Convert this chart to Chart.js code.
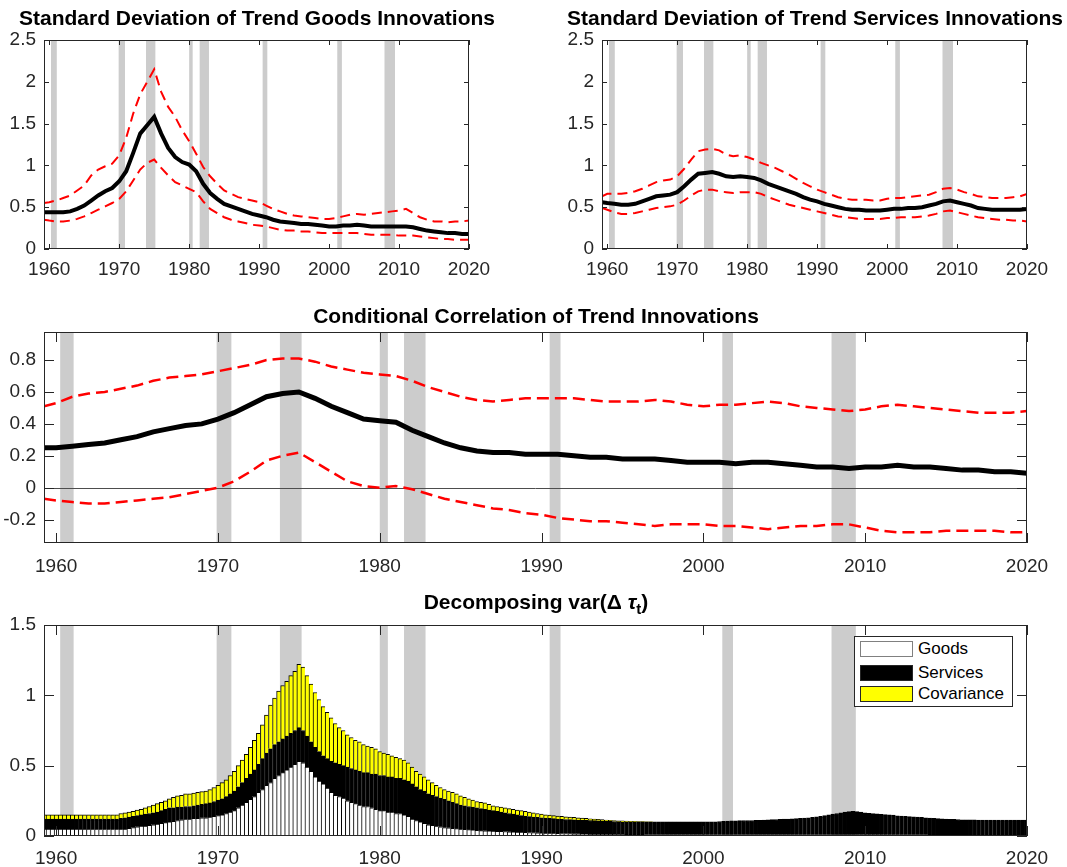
<!DOCTYPE html>
<html>
<head>
<meta charset="utf-8">
<script src="https://cdn.jsdelivr.net/npm/chart.js@4.4.1/dist/chart.umd.min.js"></script>
<style>
  body { margin: 0; background: #fff; width: 1067px; height: 867px; position: relative; overflow: hidden;
         font-family: "Liberation Sans", Arial, sans-serif; }
  canvas { position: absolute; }
  .title { position: absolute; width: 700px; text-align: center; font-weight: bold; font-size: 21px; line-height: 24px;
           color: #000; white-space: nowrap; }
  .title sub { font-size: 15px; line-height: 0; }
  #legend { position: absolute; left: 854px; top: 636px; width: 159px; height: 71px; box-sizing: border-box;
            border: 1px solid #262626; background: #fff; font-size: 17px; color: #000; }
  .row { position: absolute; left: 5px; height: 16px; }
  .sw { position: absolute; left: 0; top: 0; width: 53px; height: 16px; box-sizing: border-box; border: 1px solid #262626; }
  .lab { position: absolute; left: 58px; top: -2px; line-height: 20px; white-space: nowrap; }
</style>
</head>
<body>
<canvas id="c1" width="500" height="290" style="left:0;top:0"></canvas>
<canvas id="c2" width="509" height="290" style="left:558px;top:0"></canvas>
<canvas id="c3" width="1067" height="298" style="left:0;top:292px"></canvas>
<canvas id="c4" width="1067" height="277" style="left:0;top:590px"></canvas>

<!-- each title box is 700px wide, centred on its axes -->
<div class="title" style="left:-93px;top:6px">Standard Deviation of Trend Goods Innovations</div>
<div class="title" style="left:465px;top:6px">Standard Deviation of Trend Services Innovations</div>
<div class="title" style="left:186px;top:304px">Conditional Correlation of Trend Innovations</div>
<div class="title" style="left:186px;top:590px">Decomposing var(&Delta; <i>&tau;</i><sub>t</sub>)</div>

<div id="legend">
  <div class="row" style="top:4px"><div class="sw" style="background:#fff;border-color:#808080"></div><div class="lab">Goods</div></div>
  <div class="row" style="top:28px"><div class="sw" style="background:#000"></div><div class="lab">Services</div></div>
  <div class="row" style="top:49px"><div class="sw" style="background:#ffff00"></div><div class="lab">Covariance</div></div>
</div>

<script>
// annual readings: first point is 1959Q2, then one per year 1960..2020
const years = [1959.25].concat(Array.from({ length: 61 }, (_, i) => 1960 + i));
const yearTicks = [1960, 1970, 1980, 1990, 2000, 2010, 2020];
const sdTicks = [0, 0.5, 1, 1.5, 2, 2.5];
const corrTicks = [-0.2, 0, 0.2, 0.4, 0.6, 0.8];
const varTicks = [0, 0.5, 1, 1.5];

// NBER recessions (shaded)
const recStart = [1960.25, 1969.92, 1973.83, 1980.0, 1981.5, 1990.5, 2001.17, 2007.92];
const recEnd   = [1961.08, 1970.83, 1975.17, 1980.5, 1982.83, 1991.17, 2001.83, 2009.42];

const goodsMed = [0.44,
  0.44, 0.44, 0.44, 0.45, 0.48, 0.52, 0.58, 0.64, 0.69, 0.73,
  0.81, 0.93, 1.15, 1.38, 1.48, 1.58, 1.38, 1.21, 1.10, 1.04,
  1.01, 0.93, 0.78, 0.67, 0.60, 0.54, 0.51, 0.48, 0.45, 0.42,
  0.40, 0.38, 0.35, 0.33, 0.32, 0.31, 0.30, 0.30, 0.29, 0.28,
  0.27, 0.27, 0.28, 0.28, 0.29, 0.28, 0.27, 0.27, 0.27, 0.27,
  0.27, 0.27, 0.26, 0.24, 0.22, 0.21, 0.20, 0.19, 0.19, 0.18,
  0.18];
const goodsUp = [0.55,
  0.56, 0.58, 0.61, 0.64, 0.70, 0.76, 0.88, 0.95, 0.99, 1.02,
  1.12, 1.33, 1.62, 1.85, 2.00, 2.15, 1.88, 1.70, 1.58, 1.42,
  1.29, 1.14, 0.98, 0.87, 0.78, 0.70, 0.66, 0.62, 0.60, 0.58,
  0.56, 0.52, 0.48, 0.45, 0.42, 0.40, 0.39, 0.38, 0.37, 0.36,
  0.36, 0.37, 0.39, 0.41, 0.42, 0.41, 0.42, 0.43, 0.44, 0.45,
  0.46, 0.48, 0.43, 0.38, 0.35, 0.33, 0.33, 0.32, 0.33, 0.33,
  0.34];
const goodsLo = [0.35,
  0.34, 0.33, 0.33, 0.34, 0.36, 0.39, 0.43, 0.47, 0.51, 0.55,
  0.60, 0.69, 0.82, 0.95, 1.03, 1.07, 0.97, 0.88, 0.80, 0.76,
  0.72, 0.68, 0.57, 0.48, 0.43, 0.38, 0.35, 0.33, 0.31, 0.29,
  0.28, 0.27, 0.25, 0.23, 0.22, 0.22, 0.21, 0.21, 0.20, 0.19,
  0.19, 0.19, 0.19, 0.19, 0.19, 0.18, 0.17, 0.17, 0.17, 0.17,
  0.16, 0.16, 0.16, 0.15, 0.14, 0.13, 0.12, 0.12, 0.11, 0.11,
  0.11];

const servMed = [0.56,
  0.55, 0.54, 0.53, 0.53, 0.54, 0.57, 0.60, 0.63, 0.64, 0.65,
  0.68, 0.75, 0.83, 0.90, 0.91, 0.92, 0.90, 0.87, 0.86, 0.87,
  0.86, 0.85, 0.82, 0.78, 0.75, 0.72, 0.69, 0.66, 0.62, 0.59,
  0.57, 0.54, 0.52, 0.50, 0.48, 0.47, 0.47, 0.46, 0.46, 0.46,
  0.47, 0.48, 0.48, 0.49, 0.49, 0.50, 0.52, 0.54, 0.57, 0.58,
  0.56, 0.54, 0.52, 0.49, 0.48, 0.47, 0.47, 0.47, 0.47, 0.47,
  0.48];
const servUp = [0.63,
  0.66, 0.66, 0.66, 0.67, 0.69, 0.72, 0.76, 0.80, 0.82, 0.83,
  0.87, 0.96, 1.07, 1.17, 1.19, 1.20, 1.18, 1.13, 1.11, 1.12,
  1.10, 1.07, 1.03, 1.00, 0.97, 0.93, 0.89, 0.84, 0.79, 0.75,
  0.71, 0.68, 0.65, 0.62, 0.60, 0.59, 0.59, 0.59, 0.58, 0.58,
  0.60, 0.61, 0.61, 0.62, 0.63, 0.64, 0.65, 0.68, 0.72, 0.73,
  0.71, 0.68, 0.66, 0.63, 0.62, 0.61, 0.61, 0.61, 0.62, 0.63,
  0.66];
const servLo = [0.49,
  0.47, 0.44, 0.42, 0.42, 0.43, 0.45, 0.47, 0.49, 0.50, 0.51,
  0.53, 0.58, 0.64, 0.69, 0.71, 0.71, 0.69, 0.68, 0.67, 0.68,
  0.68, 0.68, 0.66, 0.62, 0.59, 0.56, 0.53, 0.51, 0.49, 0.47,
  0.45, 0.43, 0.41, 0.39, 0.38, 0.37, 0.36, 0.36, 0.36, 0.36,
  0.37, 0.37, 0.38, 0.38, 0.38, 0.39, 0.40, 0.42, 0.45, 0.46,
  0.44, 0.42, 0.40, 0.38, 0.37, 0.36, 0.35, 0.35, 0.34, 0.34,
  0.33];

const corrMed = [0.25,
  0.25, 0.26, 0.27, 0.28, 0.30, 0.32, 0.35, 0.37, 0.39, 0.40,
  0.43, 0.47, 0.52, 0.57, 0.59, 0.60, 0.56, 0.51, 0.47, 0.43,
  0.42, 0.41, 0.36, 0.32, 0.28, 0.25, 0.23, 0.22, 0.22, 0.21,
  0.21, 0.21, 0.20, 0.19, 0.19, 0.18, 0.18, 0.18, 0.17, 0.16,
  0.16, 0.16, 0.15, 0.16, 0.16, 0.15, 0.14, 0.13, 0.13, 0.12,
  0.13, 0.13, 0.14, 0.13, 0.13, 0.12, 0.11, 0.11, 0.10, 0.10,
  0.09];
const corrUp = [0.51,
  0.53, 0.57, 0.59, 0.60, 0.62, 0.64, 0.67, 0.69, 0.70, 0.71,
  0.73, 0.75, 0.77, 0.80, 0.81, 0.81, 0.79, 0.76, 0.74, 0.72,
  0.71, 0.70, 0.67, 0.63, 0.60, 0.57, 0.55, 0.54, 0.55, 0.56,
  0.56, 0.56, 0.56, 0.55, 0.54, 0.54, 0.54, 0.55, 0.54, 0.52,
  0.51, 0.52, 0.52, 0.53, 0.54, 0.53, 0.51, 0.50, 0.49, 0.48,
  0.49, 0.51, 0.52, 0.51, 0.50, 0.49, 0.48, 0.47, 0.47, 0.47,
  0.48];
const corrLo = [-0.07,
  -0.08, -0.09, -0.10, -0.10, -0.09, -0.08, -0.07, -0.06, -0.04, -0.02,
  0.00, 0.04, 0.10, 0.17, 0.20, 0.22, 0.16, 0.10, 0.04, 0.01,
  0.00, 0.01, -0.01, -0.04, -0.07, -0.09, -0.11, -0.13, -0.14, -0.16,
  -0.17, -0.19, -0.20, -0.21, -0.21, -0.22, -0.23, -0.24, -0.23, -0.23,
  -0.23, -0.24, -0.24, -0.25, -0.26, -0.25, -0.24, -0.24, -0.23, -0.23,
  -0.25, -0.27, -0.28, -0.28, -0.28, -0.27, -0.27, -0.27, -0.27, -0.28,
  -0.28];

// quarterly variance decomposition, 1959Q2 .. 2020Q1 (one row per year)
const goodsVar = [
  .05, .05, .05,
  .05, .05, .05, .05,   .05, .05, .05, .05,   .05, .05, .05, .05,   .05, .05, .05, .05,
  .05, .05, .055, .06,  .065, .07, .07, .075, .08, .085, .09, .095, .10, .105, .11, .115,
  .12, .12, .125, .125, .13, .13, .135, .14,
  .145, .15, .16, .17,  .18, .20, .22, .24,   .26, .28, .31, .33,   .36, .38, .41, .43,
  .45, .47, .49, .51,   .53, .52, .49, .46,   .42, .39, .37, .34,   .31, .29, .28, .27,
  .25, .24, .23, .22,   .21, .21, .20, .19,
  .18, .18, .17, .17,   .16, .16, .15, .14,   .12, .11, .10, .09,   .08, .075, .07, .065,
  .06, .058, .055, .052, .05, .048, .045, .043, .04, .038, .037, .036, .035, .034, .033, .032,
  .03, .029, .028, .027, .026, .025, .024, .023,
  .022, .021, .02, .02, .019, .018, .018, .017, .016, .016, .015, .015, .014, .014, .013, .013,
  .013, .012, .012, .012, .012, .011, .011, .011, .011, .011, .01, .01, .01, .01, .01, .01,
  .01, .01, .01, .01,   .01, .01, .01, .01,
  .01, .01, .01, .01,   .01, .01, .01, .01,   .01, .01, .01, .01,   .01, .01, .01, .01,
  .01, .01, .01, .01,   .01, .01, .01, .01,   .01, .01, .01, .01,   .01, .01, .01, .01,
  .01, .01, .01, .01,   .01, .01, .01, .01,
  .01, .009, .009, .009, .009, .009, .009, .009, .008, .008, .008, .008, .008, .008, .008, .008,
  .007, .007, .007, .007, .007, .007, .007, .007, .006, .006, .006, .006, .006, .006, .006, .006,
  .006, .006, .006, .006, .006, .006, .006, .006,
  .006];
const servicesVar = [
  .07, .07, .07,
  .07, .07, .07, .07,   .07, .07, .07, .07,   .07, .07, .07, .07,   .07, .07, .07, .07,
  .075, .08, .08, .08,  .08, .08, .085, .085, .085, .085, .09, .095, .10, .095, .095, .09,
  .09, .09, .09, .095,  .095, .10, .10, .105,
  .11, .115, .12, .13,  .14, .15, .16, .17,   .18, .19, .20, .22,   .23, .24, .24, .24,
  .24, .24, .24, .24,   .24, .23, .22, .21,   .21, .21, .20, .21,   .22, .23, .23, .23,
  .24, .24, .24, .24,   .24, .24, .24, .25,
  .25, .25, .25, .25,   .25, .25, .25, .25,   .25, .24, .23, .23,   .22, .215, .21, .205,
  .20, .192, .185, .178, .17, .167, .165, .162, .16, .157, .153, .149, .145, .141, .137, .133,
  .13, .126, .122, .118, .114, .113, .111, .11,
  .108, .107, .105, .103, .101, .10, .099, .099, .099, .098, .097, .096, .096, .095, .095, .094,
  .092, .092, .091, .09, .088, .089, .089, .089, .089, .089, .09, .09, .09, .09, .09, .09,
  .09, .09, .09, .09,   .09, .09, .09, .09,
  .09, .09, .09, .09,   .093, .095, .096, .097, .098, .099, .10, .10, .10, .101, .102, .103,
  .105, .106, .107, .108, .11, .111, .112, .113, .115, .117, .12, .123, .126, .13, .135, .14,
  .145, .15, .155, .16, .163, .165, .163, .16,
  .155, .153, .15, .148, .145, .143, .141, .139, .136, .134, .132, .13, .128, .126, .124, .122,
  .12, .118, .116, .115, .113, .112, .111, .11, .109, .109, .109, .109, .108, .108, .108, .108,
  .108, .108, .108, .108, .108, .108, .108, .108,
  .108];
const covVar = [
  .03, .03, .03,
  .03, .03, .03, .03,   .03, .03, .03, .03,   .03, .03, .03, .03,   .03, .03, .03, .03,
  .035, .035, .035, .035, .04, .04, .045, .05, .055, .06, .06, .06, .065, .075, .08, .085,
  .09, .09, .09, .09,   .09, .09, .095, .10,
  .105, .115, .12, .13, .14, .15, .16, .17,   .19, .21, .22, .24,   .27, .31, .33, .36,
  .38, .39, .41, .42,   .45, .45, .43, .41,   .39, .37, .35, .33,   .31, .28, .26, .25,
  .23, .22, .21, .21,   .20, .19, .19, .18,
  .17, .16, .16, .15,   .15, .14, .14, .13,   .12, .11, .11, .10,   .10, .09, .08, .075,
  .07, .07, .07, .07,   .065, .06, .055, .05, .045, .045, .045, .04, .035, .035, .035, .035,
  .035, .035, .035, .035, .035, .032, .03, .027,
  .025, .022, .023, .022, .022, .022, .02, .019, .017, .016, .015, .014, .012, .011, .01, .009,
  .009, .008, .007, .006, .007, .006, .005, .004, .003, .002, .001, .001, 0, 0, 0, 0,
  0, 0, 0, 0,   0, 0, 0, 0,
  0, 0, 0, 0,   0, 0, 0, 0,   0, 0, 0, 0,   0, 0, 0, 0,
  0, 0, 0, 0,   0, 0, 0, 0,   0, 0, 0, 0,   0, 0, 0, 0,
  0, 0, 0, 0,   0, 0, 0, 0,
  0, 0, 0, 0,   0, 0, 0, 0,   0, 0, 0, 0,   0, 0, 0, 0,
  0, 0, 0, 0,   0, 0, 0, 0,   0, 0, 0, 0,   0, 0, 0, 0,
  0, 0, 0, 0,   0, 0, 0, 0,
  0];
const quarters = goodsVar.map((_, i) => 1959.25 + 0.25 * i);

const xMin = 1959.25, xMax = 2020;
const fam = '"Liberation Sans", Arial, sans-serif';
const axisColor = '#262626';

// recession shading, zero line, box and inward ticks
const framePlugin = {
  id: 'frame',
  beforeDatasetsDraw(chart, args, opts) {
    const { ctx, chartArea: a, scales: { x, y } } = chart;
    ctx.save();
    ctx.fillStyle = '#cccccc';
    for (let i = 0; i < recStart.length; i++) {
      const x0 = x.getPixelForValue(recStart[i]);
      const x1 = x.getPixelForValue(recEnd[i]);
      ctx.fillRect(x0, a.top, x1 - x0, a.bottom - a.top);
    }
    if (opts.zero) {
      const py = Math.round(y.getPixelForValue(0)) + 0.5;
      ctx.strokeStyle = '#4d4d4d';
      ctx.lineWidth = 1;
      ctx.beginPath();
      ctx.moveTo(a.left, py);
      ctx.lineTo(a.right, py);
      ctx.stroke();
    }
    ctx.restore();
  },
  afterDatasetsDraw(chart, args, opts) {
    const { ctx, chartArea: a, scales: { x, y } } = chart;
    const len = opts.tickLen;
    ctx.save();
    ctx.strokeStyle = axisColor;
    ctx.lineWidth = 1;
    ctx.beginPath();
    opts.yTicks.forEach(v => {
      const py = Math.round(y.getPixelForValue(v)) + 0.5;
      ctx.moveTo(a.left, py); ctx.lineTo(a.left + len, py);
      ctx.moveTo(a.right, py); ctx.lineTo(a.right - len, py);
    });
    yearTicks.forEach(v => {
      const px = Math.round(x.getPixelForValue(v)) + 0.5;
      ctx.moveTo(px, a.bottom); ctx.lineTo(px, a.bottom - len);
      ctx.moveTo(px, a.top); ctx.lineTo(px, a.top + len);
    });
    ctx.stroke();
    ctx.strokeRect(Math.round(a.left) + 0.5, Math.round(a.top) + 0.5,
                   Math.round(a.right - a.left) - 1, Math.round(a.bottom - a.top) - 1);
    ctx.restore();
  }
};

function panelOptions(p) {
  return {
    responsive: false,
    animation: false,
    devicePixelRatio: 1,
    layout: { padding: { top: p.padTop, right: p.padRight, left: 0, bottom: 0 } },
    plugins: {
      legend: { display: false },
      tooltip: { enabled: false },
      frame: { tickLen: p.tickLen, yTicks: p.yTicks, zero: p.zero }
    },
    scales: {
      x: {
        type: 'linear', min: xMin, max: xMax, offset: false, stacked: p.stacked,
        grid: { display: false, drawTicks: false }, border: { display: false },
        afterFit: s => { s.height = p.xHeight; },
        afterBuildTicks: s => { s.ticks = yearTicks.map(v => ({ value: v })); },
        ticks: { padding: p.xPad, color: axisColor, font: { family: fam, size: 19 },
                 maxRotation: 0, autoSkip: false, callback: v => String(v) }
      },
      y: {
        type: 'linear', min: p.yMin, max: p.yMax, stacked: p.stacked,
        grid: { display: false, drawTicks: false }, border: { display: false },
        afterFit: s => { s.width = 44; },
        afterBuildTicks: s => { s.ticks = p.yTicks.map(v => ({ value: v })); },
        ticks: { padding: 8, color: axisColor, font: { family: fam, size: 19 },
                 autoSkip: false, callback: v => String(v) }
      }
    }
  };
}

function pts(arr) {
  return years.map((x, i) => ({ x: x, y: arr[i] }));
}

function bandSets(med, up, lo, w, rw, dash) {
  return [
    { data: pts(med), borderColor: '#000', borderWidth: w, pointRadius: 0, tension: 0 },
    { data: pts(up), borderColor: '#ff0000', borderWidth: rw, borderDash: dash, pointRadius: 0, tension: 0 },
    { data: pts(lo), borderColor: '#ff0000', borderWidth: rw, borderDash: dash, pointRadius: 0, tension: 0 }
  ];
}

new Chart(document.getElementById('c1'), {
  type: 'line',
  data: { datasets: bandSets(goodsMed, goodsUp, goodsLo, 4, 2, [10, 6]) },
  options: panelOptions({ padTop: 40, padRight: 31, xHeight: 41, xPad: 9, yMin: 0, yMax: 2.5, yTicks: sdTicks,
                          tickLen: 5, stacked: false }),
  plugins: [framePlugin]
});

new Chart(document.getElementById('c2'), {
  type: 'line',
  data: { datasets: bandSets(servMed, servUp, servLo, 4, 2, [10, 6]) },
  options: panelOptions({ padTop: 40, padRight: 40, xHeight: 41, xPad: 9, yMin: 0, yMax: 2.5, yTicks: sdTicks,
                          tickLen: 5, stacked: false }),
  plugins: [framePlugin]
});

new Chart(document.getElementById('c3'), {
  type: 'line',
  data: { datasets: bandSets(corrMed, corrUp, corrLo, 5, 2.5, [12, 6]) },
  options: panelOptions({ padTop: 40, padRight: 40, xHeight: 47, xPad: 12, yMin: -0.347, yMax: 0.976, yTicks: corrTicks,
                          tickLen: 10, stacked: false, zero: true }),
  plugins: [framePlugin]
});

const barStyle = {
  borderColor: '#000',
  borderWidth: { top: 1, left: 1, right: 0, bottom: 0 },
  borderSkipped: false,
  barPercentage: 1,
  categoryPercentage: 1
};

new Chart(document.getElementById('c4'), {
  type: 'bar',
  data: {
    datasets: [
      Object.assign({ label: 'Goods', data: quarters.map((x, i) => ({ x: x, y: goodsVar[i] })), backgroundColor: '#ffffff' }, barStyle),
      Object.assign({ label: 'Services', data: quarters.map((x, i) => ({ x: x, y: servicesVar[i] })), backgroundColor: '#000000' }, barStyle),
      Object.assign({ label: 'Covariance', data: quarters.map((x, i) => ({ x: x, y: covVar[i] })), backgroundColor: '#ffff00' }, barStyle)
    ]
  },
  options: panelOptions({ padTop: 35, padRight: 40, xHeight: 31, xPad: 11, yMin: 0, yMax: 1.5, yTicks: varTicks,
                          tickLen: 10, stacked: true }),
  plugins: [framePlugin]
});
</script>
</body>
</html>
